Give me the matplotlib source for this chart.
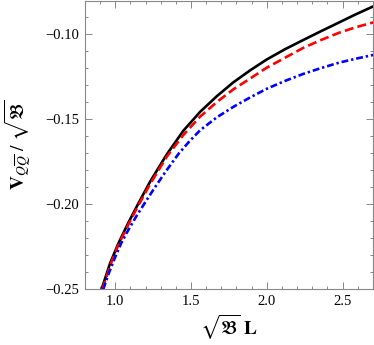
import matplotlib
matplotlib.use("Agg")
import matplotlib.pyplot as plt
from matplotlib.ticker import MultipleLocator, FuncFormatter

plt.rcParams["font.family"] = ["Liberation Serif", "DejaVu Serif"]
plt.rcParams["mathtext.fontset"] = "stix"

# curves: sqrt(B) L  vs  V / sqrt(B)
x_black = [0.91, 0.965, 1.02, 1.086, 1.152, 1.23, 1.34, 1.45, 1.56, 1.67, 1.78,
           1.89, 2.00, 2.12, 2.24, 2.36, 2.46, 2.58, 2.705]
y_black = [-0.2500, -0.2350, -0.2232, -0.2110, -0.1997, -0.1868, -0.1708, -0.1568,
           -0.1458, -0.1366, -0.1284, -0.1214, -0.1150, -0.1090, -0.1036, -0.0983,
           -0.0940, -0.0888, -0.0837]

x_red = [0.915, 0.97, 1.02, 1.086, 1.152, 1.23, 1.34, 1.45, 1.56, 1.67, 1.78,
         1.89, 2.00, 2.12, 2.24, 2.36, 2.48, 2.59, 2.705]
y_red = [-0.2500, -0.2352, -0.2240, -0.2120, -0.2008, -0.1882, -0.1721, -0.1593,
         -0.1486, -0.1400, -0.1325, -0.1262, -0.1198, -0.1140, -0.1082, -0.1035,
         -0.0992, -0.0960, -0.0932]

x_blue = [0.921, 0.96, 1.00, 1.04, 1.086, 1.14, 1.19, 1.25, 1.33, 1.417, 1.49, 1.56,
          1.67, 1.78, 1.89, 2.00, 2.12, 2.24, 2.36, 2.48, 2.59, 2.705]
y_blue = [-0.2500, -0.2400, -0.2310, -0.2228, -0.2152, -0.2070, -0.2000, -0.1917,
          -0.1812, -0.1705, -0.1630, -0.1566, -0.1490, -0.1428, -0.1373, -0.1322,
          -0.1276, -0.1235, -0.1200, -0.1168, -0.1145, -0.1123]

fig = plt.figure(figsize=(3.74, 3.45), dpi=100)
ax = fig.add_axes([0.227, 0.1614, 0.770, 0.837])

ax.plot(x_black, y_black, color="black", lw=1.9)
ax.plot(x_red, y_red, color="#ff0000", lw=1.9, dashes=(3.4, 1.6))
ax.plot(x_blue, y_blue, color="#0000ff", lw=1.9, dashes=(2.6, 1.1, 0.9, 1.1))

ax.set_xlim(0.8, 2.7)
ax.set_ylim(-0.25, -0.0804)

ax.xaxis.set_major_locator(MultipleLocator(0.5))
ax.xaxis.set_minor_locator(MultipleLocator(0.1))
ax.yaxis.set_major_locator(MultipleLocator(0.05))
ax.yaxis.set_minor_locator(MultipleLocator(0.01))
ax.xaxis.set_major_formatter(FuncFormatter(lambda v, p: f"{v:.1f}"))
ax.yaxis.set_major_formatter(FuncFormatter(lambda v, p: f"{v:.2f}".replace("-", "\u2212")))

ax.tick_params(which="both", direction="in", top=True, right=True,
               labelsize=10.5, color="#888888", width=0.7, pad=4)
ax.tick_params(which="major", length=5)
ax.tick_params(which="minor", length=2.5)
for s in ax.spines.values():
    s.set_color("#888888")
    s.set_linewidth(0.8)

ax.set_xlabel(r"$\sqrt{\mathfrak{B}}\ \mathbf{L}$", fontsize=14, labelpad=4)
ax.set_ylabel(r"$\mathbf{V}_{Q\overline{Q}}\ /\ \sqrt{\mathfrak{B}}$",
              fontsize=14, labelpad=8)

fig.savefig("out.png", dpi=100)
